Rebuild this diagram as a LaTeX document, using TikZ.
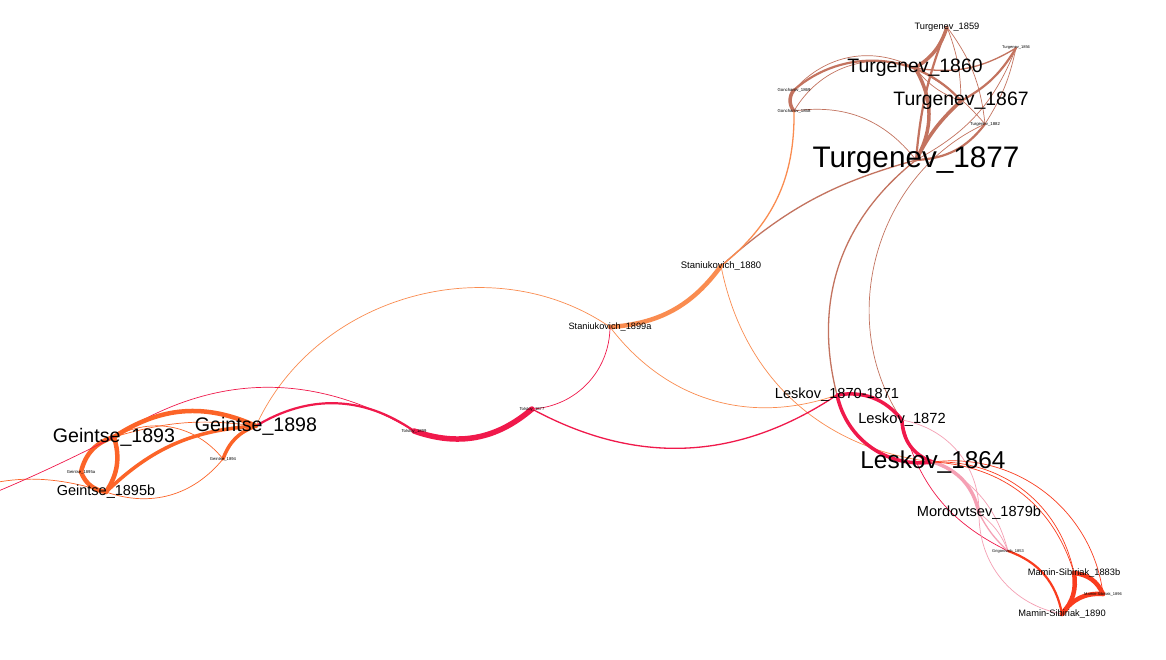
\documentclass[tikz,border=0pt]{standalone}
\usepackage{fontspec}
\setmainfont{Liberation Sans}
\pgfdeclarelayer{edges}
\pgfsetlayers{edges,main}
\definecolor{cTur}{RGB}{195,115,95}
\definecolor{cSta}{RGB}{250,140,80}
\definecolor{cTol}{RGB}{240,25,75}
\definecolor{cMor}{RGB}{245,160,180}
\definecolor{cMam}{RGB}{250,60,30}
\definecolor{cGei}{RGB}{252,100,40}
\newcommand\fsz[1]{\fontsize{#1}{#1}\selectfont}
\begin{document}
\begin{tikzpicture}[x=1pt,y=-1pt,
  lbl/.style={inner sep=0pt, text=black, anchor=center},
  wa/.style={line width=0.7pt}, wb/.style={line width=1.3pt},
  wc/.style={line width=2.2pt}, wd/.style={line width=3.5pt},
  we/.style={line width=4.5pt}, wf/.style={line width=5.5pt},
  tur/.style={draw=cTur, line cap=round}, sta/.style={draw=cSta, line cap=round},
  tol/.style={draw=cTol, line cap=round}, mor/.style={draw=cMor, line cap=round},
  mam/.style={draw=cMam, line cap=round}, gei/.style={draw=cGei, line cap=round}]
\useasboundingbox (0,0) rectangle (1166,660);
% nodes
\node[lbl, font=\fsz{9.3}] (t59) at (947,27) {Turgenev\_1859};
\node[lbl, font=\fsz{4}] (t56) at (1016,48) {Turgenev\_1856};
\node[lbl, font=\fsz{19.4}] (t60) at (915,68) {Turgenev\_1860};
\node[lbl, font=\fsz{4.3}] (g69) at (794,90) {Goncharov\_1869};
\node[lbl, font=\fsz{4.3}] (g58) at (794,111) {Goncharov\_1858};
\node[lbl, font=\fsz{19.4}] (t67) at (961,101) {Turgenev\_1867};
\node[lbl, font=\fsz{4.3}] (t82) at (985,124) {Turgenev\_1882};
\node[lbl, font=\fsz{29.7}] (t77) at (916,160) {Turgenev\_1877};
\node[lbl, font=\fsz{9.5}] (s80) at (721,266) {Staniukovich\_1880};
\node[lbl, font=\fsz{9.2}] (s99) at (610,327) {Staniukovich\_1899a};
\node[lbl, font=\fsz{14.6}] (l70) at (837,395) {Leskov\_1870-1871};
\node[lbl, font=\fsz{14.7}] (l72) at (902,420) {Leskov\_1872};
\node[lbl, font=\fsz{24.4}] (l64) at (933,462) {Leskov\_1864};
\node[lbl, font=\fsz{14.6}] (m79) at (979,513) {Mordovtsev\_1879b};
\node[lbl, font=\fsz{4}] (gr53) at (1008,551) {Grigorovich\_1853};
\node[lbl, font=\fsz{9.3}] (ma83) at (1074,573) {Mamin-Sibiriak\_1883b};
\node[lbl, font=\fsz{4}] (ma96) at (1103,594) {Mamin-Sibiriak\_1896};
\node[lbl, font=\fsz{9.3}] (ma90) at (1062,614) {Mamin-Sibiriak\_1890};
\node[lbl, font=\fsz{4.2}] (to77) at (532,409) {Tolstoy\_1877};
\node[lbl, font=\fsz{4.2}] (to99) at (414,431) {Tolstoy\_1899};
\node[lbl, font=\fsz{19.6}] (g93) at (114,437) {Geintse\_1893};
\node[lbl, font=\fsz{19.6}] (g98) at (256,426) {Geintse\_1898};
\node[lbl, font=\fsz{4.2}] (g94) at (223,459) {Geintse\_1894};
\node[lbl, font=\fsz{4.2}] (g95a) at (81,472) {Geintse\_1895a};
\node[lbl, font=\fsz{14.5}] (g95b) at (106,492) {Geintse\_1895b};
\coordinate (offA) at (-60,500);
\coordinate (offB) at (-80,522);
\begin{pgfonlayer}{edges}
\fill[white] (0,0) rectangle (1166,660);
% Turgenev cluster
\draw[tur,wd] (t59.center) to[bend left=20] (t60.center);
\draw[tur,wc] (t59.center) to[bend right=8] (t77.center);
\draw[tur,wa] (t59.center) to[bend left=10] (t67.center);
\draw[tur,wa] (t59.center) to[bend left=15] (t82.center);
\draw[tur,wb] (t56.center) to[bend left=20] (t60.center);
\draw[tur,wc] (t56.center) to[bend left=15] (t67.center);
\draw[tur,wa] (t56.center) to[bend left=10] (t82.center);
\draw[tur,wa] (t56.center) to[bend left=20] (t77.center);
\draw[tur,wd] (t60.center) to[bend left=30] (t77.center);
\draw[tur,wa] (t60.center) to[bend left=10] (t82.center);
\draw[tur,wa] (t60.center) to[bend right=15] (t67.center);
\draw[tur,wd] (t67.center) to[bend right=10] (t77.center);
\draw[tur,wc] (t82.center) to[bend left=25] (t77.center);
\draw[tur,wd] (g69.center) to[bend right=40] (g58.center);
\draw[tur,wc] (g69.center) to[bend left=45] (t67.center);
\draw[tur,wa] (g69.center) to[bend left=38] (t60.center);
\draw[tur,wa] (g58.center) to[bend left=40] (t60.center);
\draw[tur,wa] (g58.center) to[bend left=30] (t77.center);
\draw[tur,wb] (t77.center) to[bend right=13] (s80.center);
\draw[tur,wb] (t77.center) to[bend right=33] (l70.center);
\draw[tur,wa] (t82.center) to[bend right=50] (l72.center);
% Staniukovich
\draw[sta,wb] (g58.center) to[bend left=26] (s80.center);
\draw[sta,we] (s80.center) to[bend left=25] (s99.center);
\draw[sta,wa] (s80.center) to[bend right=36] (l64.center);
\draw[sta,wa] (s99.center) to[bend right=36] (l70.center);
\draw[sta,wa] (s99.center) to[bend right=50] (g98.center);
% Tolstoy
\draw[tol,wa] (s99.center) to[bend left=43] (to77.center);
\draw[tol,wf] (to99.center) to[bend right=30] (to77.center);
\draw[tol,wb] (to77.center) to[bend right=31] (l70.center);
\draw[tol,wc] (to99.center) to[bend right=33] (g98.center);
\draw[tol,wa] (to99.center) to[bend right=32] (g93.center);
% Leskov
\draw[tol,wd] (l70.center) to[bend right=43] (l64.center);
\draw[tol,wd] (l70.center) to[bend left=30] (l72.center);
\draw[tol,wd] (l72.center) to[bend right=35] (l64.center);
\draw[tol,wa] (l72.center) to[bend right=25] (gr53.center);
\draw[mor,wd] (l64.center) to[bend left=30] (m79.center);
\draw[mor,wa] (l72.center) to[bend left=40] (m79.center);
\draw[mor,wb] (m79.center) to[bend right=10] (gr53.center);
\draw[mor,wa] (m79.center) to[bend left=15] (gr53.center);
\draw[mor,wa] (l64.center) to[bend left=25] (gr53.center);
\draw[mor,wa] (m79.center) to[bend right=40] (ma90.center);
% Mamin-Sibiriak
\draw[mam,wc] (gr53.center) to[bend left=30] (ma90.center);
\draw[mam,we] (ma83.center) to[bend left=30] (ma96.center);
\draw[mam,we] (ma96.center) to[bend right=30] (ma90.center);
\draw[mam,we] (ma83.center) to[bend left=25] (ma90.center);
\draw[mam,wa] (l64.center) to[bend left=35] (ma83.center);
\draw[mam,wa] (l64.center) to[bend left=40] (ma83.center);
\draw[mam,wa] (l64.center) to[bend left=45] (ma96.center);
% Geintse
\draw[gei,we] (g93.center) to[bend left=29] (g98.center);
\draw[gei,wa] (g93.center) to[bend left=12] (g98.center);
\draw[gei,we] (g93.center) to[bend left=25] (g95b.center);
\draw[gei,we] (g93.center) to[bend right=30] (g95a.center);
\draw[gei,we] (g95a.center) to[bend right=30] (g95b.center);
\draw[gei,wd] (g95b.center) to[bend left=20] (g98.center);
\draw[gei,wd] (g98.center) to[bend right=25] (g94.center);
\draw[gei,wa] (g93.center) to[bend left=40] (g94.center);
\draw[gei,wa] (g95b.center) to[bend right=35] (g94.center);
\draw[gei,wa] (g95b.center) to[bend right=20] (offA);
\draw[tol,wa] (g93.center) to[bend left=3] (offB);
\end{pgfonlayer}
\end{tikzpicture}
\end{document}
